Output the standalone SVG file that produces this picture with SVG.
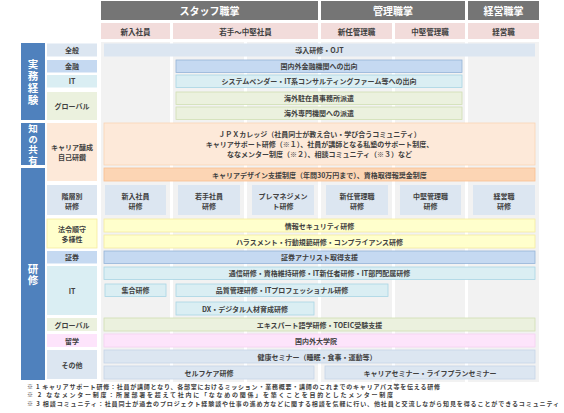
<svg xmlns="http://www.w3.org/2000/svg" width="564" height="413" viewBox="0 0 564 413">
<style>
text{font-family:"Noto Sans CJK JP","Noto Sans",sans-serif;font-weight:bold;fill:#404040;text-anchor:middle;dominant-baseline:central;font-size:7px}
.hd{fill:#757575}
.hdt{fill:#fff;font-size:10px}
.sh{fill:#f2dcdb}
.sht{font-size:7.5px}
.col{fill:#f2f2f2}
.cat{fill:#4f81bd}
.vt{fill:#fff;writing-mode:vertical-rl;text-orientation:upright}
.gen{fill:#dce6f1}
.genb{fill:#dce6f1;stroke:#c5d4e8;stroke-width:0.8}
.fin{fill:#c5d9f1}
.finb{fill:#c5d9f1;stroke:#95b3d7;stroke-width:0.8}
.it{fill:#daeef3}
.itb{fill:#daeef3;stroke:#a8d5e4;stroke-width:0.8}
.gl{fill:#ebf1de}
.glb{fill:#ebf1de;stroke:#d0dfb2;stroke-width:0.8}
.car{fill:#fde9d9}
.carb{fill:#fde9d9;stroke:#fbd4b4;stroke-width:0.8}
.car2b{fill:#fcd5b4;stroke:#f9bf8f;stroke-width:0.8}
.law{fill:#ffffcc;stroke:#f6ec9e;stroke-width:0.8}
.ryu{fill:#fde4fb}
.ryub{fill:#fde4fb;stroke:#f6d0f2;stroke-width:0.8}
.fn{text-anchor:start;font-size:6px;dominant-baseline:auto}
</style>

<!-- column backgrounds -->
<g id="columns">
<rect class="col" x="101" y="42" width="69" height="340"/>
<rect class="col" x="173" y="42" width="71" height="340"/>
<rect class="col" x="247" y="42" width="71" height="340"/>
<rect class="col" x="321" y="42" width="71" height="340"/>
<rect class="col" x="395" y="42" width="70" height="340"/>
<rect class="col" x="468" y="42" width="71" height="340"/>
</g>

<!-- headers -->
<g id="hdr-staff"><rect class="hd" x="101" y="1" width="217" height="19"/><text class="hdt" x="209.5" y="10.5">スタッフ職掌</text></g>
<g id="hdr-mgr"><rect class="hd" x="321" y="1" width="144" height="19"/><text class="hdt" x="393" y="10.5">管理職掌</text></g>
<g id="hdr-exec"><rect class="hd" x="468" y="1" width="71" height="19"/><text class="hdt" x="503.5" y="10.5">経営職掌</text></g>

<g id="sh-new"><rect class="sh" x="101" y="23" width="69" height="16"/><text class="sht" x="135.5" y="31">新入社員</text></g>
<g id="sh-young"><rect class="sh" x="173" y="23" width="145" height="16"/><text class="sht" x="245.5" y="31">若手～中堅社員</text></g>
<g id="sh-newmgr"><rect class="sh" x="321" y="23" width="71" height="16"/><text class="sht" x="356.5" y="31">新任管理職</text></g>
<g id="sh-midmgr"><rect class="sh" x="395" y="23" width="70" height="16"/><text class="sht" x="430" y="31">中堅管理職</text></g>
<g id="sh-exec"><rect class="sh" x="468" y="23" width="71" height="16"/><text class="sht" x="503.5" y="31">経営職</text></g>

<!-- left categories -->
<g id="cat-jitsumu"><rect class="cat" x="21" y="43" width="24" height="77"/>
<text class="vt" x="33" y="82.5" style="font-size:10.5px;letter-spacing:1.5px">実務経験</text></g>
<g id="cat-chi"><rect class="cat" x="21" y="123" width="24" height="42"/>
<text class="vt" x="33" y="145" style="font-size:9.5px;letter-spacing:1px">知の共有</text></g>
<g id="cat-kenshu"><rect class="cat" x="21" y="168" width="24" height="212"/>
<text class="vt" x="33" y="275" style="font-size:10.5px;letter-spacing:0.5px">研修</text></g>

<!-- sub categories -->
<g id="sub-zenpan"><rect class="gen" x="47" y="43.5" width="50" height="13"/><text x="72" y="50">全般</text></g>
<g id="sub-kinyu"><rect class="fin" x="47" y="60" width="50" height="12.5"/><text x="72" y="66.25">金融</text></g>
<g id="sub-it1"><rect class="it" x="47" y="75" width="50" height="12.5"/><text x="72" y="81.25">IT</text></g>
<g id="sub-global1"><rect class="gl" x="47" y="92" width="50" height="28"/><text x="72" y="106">グローバル</text></g>
<g id="sub-career"><rect class="car" x="47" y="123" width="50" height="58"/><text x="72" y="147">キャリア醸成</text><text x="72" y="157">自己研鑽</text></g>
<g id="sub-kaiso"><rect class="gen" x="47" y="185" width="50" height="30"/><text x="72" y="195.5">階層別</text><text x="72" y="205.5">研修</text></g>
<g id="sub-law"><rect class="law" x="47" y="219" width="50" height="29"/><text x="72" y="229">法令順守</text><text x="72" y="238.5">多様性</text></g>
<g id="sub-shoken"><rect class="fin" x="47" y="251" width="50" height="12.5"/><text x="72" y="257.25">証券</text></g>
<g id="sub-it2"><rect class="it" x="47" y="266" width="50" height="49"/><text x="72" y="290.5">IT</text></g>
<g id="sub-global2"><rect class="gl" x="47" y="318" width="50" height="13"/><text x="72" y="324.5">グローバル</text></g>
<g id="sub-ryugaku"><rect class="ryu" x="47" y="334" width="50" height="13"/><text x="72" y="340.5">留学</text></g>
<g id="sub-other"><rect class="gen" x="47" y="350" width="50" height="29"/><text x="72" y="364.5">その他</text></g>

<!-- bars -->
<g id="b-ojt"><rect class="gen" x="104" y="43.5" width="431" height="13"/><text x="319.5" y="50">導入研修・OJT</text></g>
<g id="b-kinyu"><rect class="finb" x="176" y="60" width="286" height="12.5"/><text x="319" y="66.25">国内外金融機関への出向</text></g>
<g id="b-vendor"><rect class="itb" x="176" y="75" width="286" height="12.5"/><text x="319" y="81.25">システムベンダー・IT系コンサルティングファーム等への出向</text></g>
<g id="b-chuzai"><rect class="glb" x="176" y="92" width="286" height="12.5"/><text x="319" y="98.25">海外駐在員事務所派遣</text></g>
<g id="b-senmon"><rect class="glb" x="176" y="107" width="286" height="12.5"/><text x="319" y="113.25">海外専門機関への派遣</text></g>
<g id="b-jpx"><rect class="carb" x="104" y="123" width="431" height="42"/>
<text x="319.5" y="134">ＪＰＸカレッジ（社員同士が教え合い・学び合うコミュニティ）</text>
<text x="319.5" y="144">キャリアサポート研修（※１）、社員が講師となる私塾のサポート制度、</text>
<text x="319.5" y="154">ななメンター制度（※２）、相談コミュニティ（※３）など</text></g>
<g id="b-design"><rect class="car2b" x="104" y="168" width="431" height="13"/><text x="319.5" y="174.5">キャリアデザイン支援制度（年間30万円まで）、資格取得報奨金制度</text></g>

<g id="k-new"><rect class="gen" x="105" y="185" width="61" height="30"/><text x="135.5" y="195.5">新入社員</text><text x="135.5" y="205.5">研修</text></g>
<g id="k-young"><rect class="gen" x="178" y="185" width="62" height="30"/><text x="209" y="195.5">若手社員</text><text x="209" y="205.5">研修</text></g>
<g id="k-premgr"><rect class="gen" x="252" y="185" width="62" height="30"/><text x="283" y="195.5">プレマネジメン</text><text x="283" y="205.5">ト研修</text></g>
<g id="k-newmgr"><rect class="gen" x="326" y="185" width="62" height="30"/><text x="357" y="195.5">新任管理職</text><text x="357" y="205.5">研修</text></g>
<g id="k-midmgr"><rect class="gen" x="400" y="185" width="61" height="30"/><text x="430.5" y="195.5">中堅管理職</text><text x="430.5" y="205.5">研修</text></g>
<g id="k-exec"><rect class="gen" x="473" y="185" width="62" height="30"/><text x="504" y="195.5">経営職</text><text x="504" y="205.5">研修</text></g>

<g id="b-security"><rect class="law" x="104" y="219" width="431" height="13"/><text x="319.5" y="225.5">情報セキュリティ研修</text></g>
<g id="b-harass"><rect class="law" x="104" y="235" width="431" height="13"/><text x="319.5" y="241.5">ハラスメント・行動規範研修・コンプライアンス研修</text></g>
<g id="b-analyst"><rect class="finb" x="104" y="251" width="431" height="12.5"/><text x="319.5" y="257.25">証券アナリスト取得支援</text></g>
<g id="b-tsushin"><rect class="itb" x="104" y="267" width="431" height="12.5"/><text x="319.5" y="273.25">通信研修・資格維持研修・IT新任者研修・IT部門配属研修</text></g>
<g id="b-shugo"><rect class="itb" x="105" y="284" width="61" height="12.5"/><text x="135.5" y="290.25">集合研修</text></g>
<g id="b-quality"><rect class="itb" x="176" y="284" width="212" height="12.5"/><text x="282" y="290.25">品質管理研修・ITプロフェッショナル研修</text></g>
<g id="b-dx"><rect class="itb" x="176" y="302" width="138" height="13"/><text x="245" y="308.5">DX・デジタル人材育成研修</text></g>
<g id="b-expert"><rect class="glb" x="104" y="318" width="431" height="13"/><text x="319.5" y="324.5">エキスパート語学研修・TOEIC受験支援</text></g>
<g id="b-grad"><rect class="ryub" x="104" y="334" width="431" height="13"/><text x="316" y="340.5">国内外大学院</text></g>
<g id="b-health"><rect class="genb" x="104" y="350" width="431" height="13"/><text x="317" y="356.5">健康セミナー（睡眠・食事・運動等）</text></g>
<g id="b-selfcare"><rect class="genb" x="104" y="366" width="210" height="13"/><text x="209" y="372.5">セルフケア研修</text></g>
<g id="b-lifeplan"><rect class="genb" x="325" y="366" width="210" height="13"/><text x="430" y="372.5">キャリアセミナー・ライフプランセミナー</text></g>

<!-- footnotes -->
<g id="footnotes">
<text class="fn" x="27" y="388.6" textLength="413" lengthAdjust="spacing">※ 1 キャリアサポート研修：社員が講師となり、各部室におけるミッション・業務概要・講師のこれまでのキャリアパス等を伝える研修</text>
<text class="fn" x="27" y="397.2" textLength="366" lengthAdjust="spacing">※ 2 ななメンター制度：所属部署を超えて社内に「ななめの関係」を築くことを目的としたメンター制度</text>
<text class="fn" x="27" y="405.8" textLength="532" lengthAdjust="spacing">※ 3 相談コミュニティ：社員同士が過去のプロジェクト経験談や仕事の進め方などに関する相談を気軽に行い、他社員と交流しながら知見を得ることができるコミュニティ</text>
</g>
</svg>
